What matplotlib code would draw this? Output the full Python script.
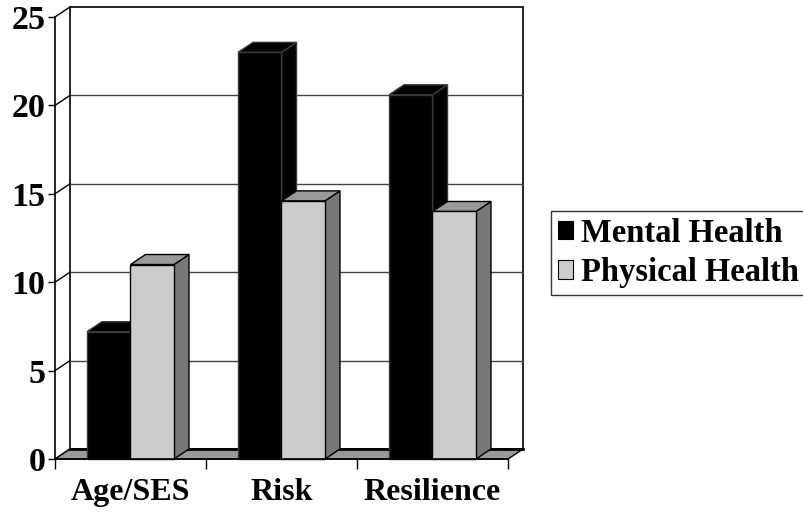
import matplotlib
matplotlib.use("Agg")
import matplotlib.pyplot as plt
from matplotlib.patches import Polygon, Patch

# Chart data
categories = ['Age/SES', 'Risk', 'Resilience']
series_names = ['Mental Health', 'Physical Health']
mental = [7.2, 23.0, 20.6]
physical = [11.0, 14.6, 14.0]
y_ticks = [0, 5, 10, 15, 20, 25]

plt.rcParams['font.family'] = ['Liberation Serif', 'DejaVu Serif']
plt.rcParams['font.weight'] = 'bold'

W, H = 804, 513
fig = plt.figure(figsize=(W / 100, H / 100), dpi=100)
# front plane of the plot: x from 55 to 508 px, y from 459 (0) to 17 (25)
ax = fig.add_axes([55 / W, (H - 459) / H, (508 - 55) / W, (459 - 17) / H])
ax.set_xlim(0, 3)
ax.set_ylim(0, 25)

# depth offset of the pseudo 3D box, in data units
dx = 15 / (453 / 3)
dy = 10 / (442 / 25)
ymax = 25

z = 1
def poly(pts, fc, ec='black', lw=1.0):
    global z
    p = Polygon(pts, closed=True, facecolor=fc, edgecolor=ec, linewidth=lw,
                clip_on=False, zorder=z, joinstyle='miter')
    ax.add_patch(p)
    z += 1

# back wall
poly([(dx, dy), (3 + dx, dy), (3 + dx, ymax + dy), (dx, ymax + dy)], 'white', lw=1.2)
for v in y_ticks[1:-1]:
    ax.plot([dx, 3 + dx], [v + dy, v + dy], color='#444444', lw=1.0, clip_on=False, zorder=z)
# gridlines on the side wall
for v in y_ticks:
    ax.plot([0, dx], [v, v + dy], color='black', lw=1.0, clip_on=False, zorder=z)
z += 1

# floor
poly([(0, 0), (3, 0), (3 + dx, dy), (dx, dy)], '#999999', lw=1.0)
ax.plot([dx, 3 + dx], [dy, dy], color='black', lw=2.0, clip_on=False, zorder=z)
z += 1

bar_w = 0.288
styles = [
    dict(front='black', top='black', side='black', ec='#3a3a3a'),
    dict(front='#cccccc', top='#999999', side='#777777', ec='black'),
]
for i in range(len(categories)):
    for j, vals in enumerate([mental, physical]):
        v = vals[i]
        x0 = i + 0.5 - bar_w + j * bar_w
        x1 = x0 + bar_w
        s = styles[j]
        poly([(x1, 0), (x1 + dx, dy), (x1 + dx, v + dy), (x1, v)], s['side'], ec=s['ec'])
        poly([(x0, v), (x1, v), (x1 + dx, v + dy), (x0 + dx, v + dy)], s['top'], ec=s['ec'])
        poly([(x0, 0), (x1, 0), (x1, v), (x0, v)], s['front'], ec=s['ec'])

# axes
for side in ['top', 'right']:
    ax.spines[side].set_visible(False)
for side in ['left', 'bottom']:
    ax.spines[side].set_linewidth(1.2)
    ax.spines[side].set_zorder(z + 1)
ax.set_facecolor('none')

ax.set_yticks(y_ticks)
ax.set_yticklabels([str(t) for t in y_ticks], fontsize=24.5, fontweight='bold')
ax.tick_params(axis='y', length=5, width=1.0, pad=2, direction='out')

ax.set_xticks([0.5, 1.5, 2.5])
ax.set_xticklabels(categories, fontsize=23, fontweight='bold')
ax.set_xticks([0, 1, 2, 3], minor=True)
ax.tick_params(axis='x', which='major', length=0, pad=14)
ax.tick_params(axis='x', which='minor', length=7, width=1.0, direction='out')

handles = [Patch(facecolor='black', edgecolor='black', lw=0.8),
           Patch(facecolor='#cccccc', edgecolor='black', lw=0.8)]
leg = fig.legend(handles, series_names, loc='center left',
                 bbox_to_anchor=(551 / W, (H - 253) / H),
                 prop={'family': 'Liberation Serif', 'weight': 'bold', 'size': 23.5},
                 frameon=True, fancybox=False, edgecolor='black',
                 handlelength=0.48, handleheight=0.48, handletextpad=0.25,
                 labelspacing=0.25, borderpad=0.2, borderaxespad=0)
leg.get_frame().set_linewidth(1.0)

fig.savefig('out.png', dpi=100)
